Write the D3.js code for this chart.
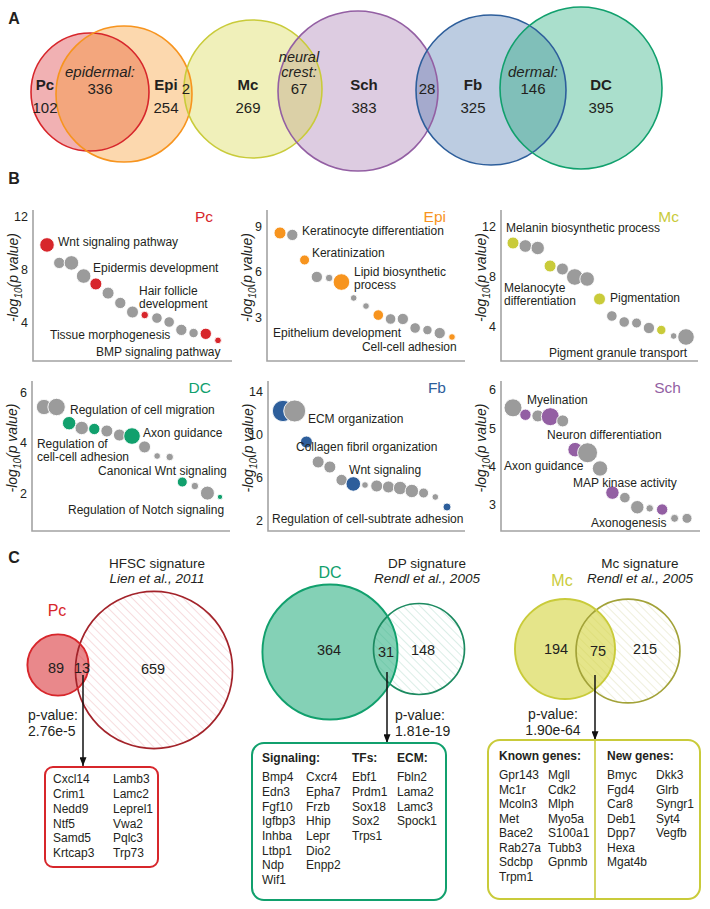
<!DOCTYPE html>
<html><head><meta charset="utf-8">
<script src="https://cdn.jsdelivr.net/npm/d3@7"></script>
<style>
html,body{margin:0;padding:0;background:#fff;}
svg{display:block;font-family:"Liberation Sans",Arial,Helvetica,sans-serif;}
</style></head><body>
<svg id="fig" width="710" height="909"></svg>
<script>
// ================= DATA =================
// Panel A: six-population Venn
const vennSets   = ["Pc","Epi","Mc","Sch","Fb","DC"];
const vennUnique = [102,254,269,383,325,395];
const vennShared = [336,2,67,28,146];
const vennSharedNames = ["epidermal:","","neural\ncrest:","","dermal:"];

// Panel B: GO term enrichment bubbles (-log10 p), bubble size, highlighted flag
const pcValues = [9.87,8.5,8.5,7.5,6.9,6.2,5.45,4.76,4.53,4.3,4.0,3.4,3.16,3.1,2.6];
const pcSizes  = [53,32,53,53,36,36,32,36,14,28,28,32,22,32,11];
const pcHigh   = [1,0,0,0,1,0,0,0,1,0,0,0,0,1,1];
const pcTicks  = [4,8,12];
const pcTerms  = ["Wnt signaling pathway","Epidermis development","Hair follicle\ndevelopment","Tissue morphogenesis","BMP signaling pathway"];

const epiValues = [8.6,8.47,6.8,5.67,5.6,5.33,4.27,3.73,3.13,2.87,2.87,2.27,2.13,1.93,1.67];
const epiSizes  = [36,32,25,32,14,69,11,11,28,28,32,28,22,32,11];
const epiHigh   = [1,0,1,0,0,1,0,0,1,0,0,0,0,0,1];
const epiTicks  = [3,6,9];
const epiTerms  = ["Keratinocyte differentiation","Keratinization","Lipid biosynthetic\nprocess","Epithelium development","Cell-cell adhesion"];

const mcValues = [10.64,10.4,10.24,8.8,8.56,7.92,7.76,6.16,4.8,4.32,4.24,3.84,3.68,3.2,3.12];
const mcSizes  = [36,40,45,36,36,69,53,36,28,28,25,32,22,11,69];
const mcHigh   = [1,0,0,1,0,0,0,1,0,0,0,0,1,0,0];
const mcTicks  = [4,8,12];
const mcTerms  = ["Melanin biosynthetic process","Melanocyte\ndifferentiation","Pigmentation","Pigment granule transport"];

const dcValues = [5.41,5.41,4.77,4.58,4.54,4.46,4.3,4.26,3.83,3.47,3.43,2.44,2.28,2.0,1.85];
const dcSizes  = [59,76,45,45,32,36,36,69,36,11,14,25,14,49,7];
const dcHigh   = [0,0,1,0,1,0,0,1,0,0,0,1,0,0,1];
const dcTicks  = [2,4,6];
const dcTerms  = ["Regulation of cell migration","Axon guidance","Regulation of\ncell-cell adhesion","Canonical Wnt signaling","Regulation of Notch signaling"];

const fbValues = [12.22,12.22,9.31,7.44,6.97,5.75,5.38,5.28,5.19,5.1,5.0,4.72,4.53,4.16,3.22];
const fbSizes  = [114,121,36,36,36,32,53,11,36,36,45,45,25,11,16];
const fbHigh   = [1,0,1,0,0,0,1,0,0,0,0,0,0,0,1];
const fbTicks  = [2,6,10,14];
const fbTerms  = ["ECM organization","Collagen fibril organization","Wnt signaling","Regulation of cell-subtrate adhesion"];

const schValues = [5.53,5.35,5.32,5.3,5.19,4.44,4.36,3.95,3.32,3.19,2.94,2.91,2.88,2.65,2.65];
const schSizes  = [81,32,36,81,36,53,100,59,45,28,45,14,32,16,25];
const schHigh   = [0,1,0,1,0,1,0,0,1,0,0,0,1,0,0];
const schTicks  = [3,4,5,6];
const schTerms  = ["Myelination","Neuron differentiation","Axon guidance","MAP kinase activity","Axonogenesis"];

// Panel C: comparisons with published signatures
const pcSigTitle  = ["HFSC signature","Lien et al., 2011"];
const pcSigCounts = [89,13,659];
const pcSigP      = "2.76e-5";
const pcSigGenes  = ["Cxcl14","Crim1","Nedd9","Ntf5","Samd5","Krtcap3","Lamb3","Lamc2","Leprel1","Vwa2","Pqlc3","Trp73"];

const dcSigTitle  = ["DP signature","Rendl et al., 2005"];
const dcSigCounts = [364,31,148];
const dcSigP      = "1.81e-19";
const dcSignaling = ["Bmp4","Edn3","Fgf10","Igfbp3","Inhba","Ltbp1","Ndp","Wif1","Cxcr4","Epha7","Frzb","Hhip","Lepr","Dio2","Enpp2"];
const dcTFs       = ["Ebf1","Prdm1","Sox18","Sox2","Trps1"];
const dcECM       = ["Fbln2","Lama2","Lamc3","Spock1"];

const mcSigTitle  = ["Mc signature","Rendl et al., 2005"];
const mcSigCounts = [194,75,215];
const mcSigP      = "1.90e-64";
const mcKnown     = ["Gpr143","Mc1r","Mcoln3","Met","Bace2","Rab27a","Sdcbp","Trpm1","Mgll","Cdk2","Mlph","Myo5a","S100a1","Tubb3","Gpnmb"];
const mcNew       = ["Bmyc","Fgd4","Car8","Deb1","Dpp7","Hexa","Mgat4b","Dkk3","Glrb","Syngr1","Syt4","Vegfb"];

// ================= STYLE / LAYOUT =================
const FONT = '"Liberation Sans", Arial, Helvetica, sans-serif';
const TXT = "#231f20";
const GRAY = "#9b9b9b";
const COL = {Pc:"#d7262b", Epi:"#f7941e", Mc:"#c9cb3a", Sch:"#935fa3", Fb:"#2d5e9b", DC:"#11a06d"};

const svg = d3.select("#fig");
const defs = svg.append("defs");

function text(g, x, y, s, opt = {}) {
  return g.append("text").attr("x", x).attr("y", y).attr("dy", "0.35em")
    .attr("font-size", opt.size || 12).attr("font-family", FONT)
    .attr("font-weight", opt.weight || "normal").attr("font-style", opt.style || "normal")
    .attr("text-anchor", opt.anchor || "start").attr("fill", opt.fill || TXT).text(s);
}

// panel letters
[["A",14,18],["B",14,178],["C",14,557]].forEach(([s,x,y]) => text(svg, x, y, s, {size:16, weight:"bold", anchor:"middle"}));

// ---------- Panel A ----------
const gA = svg.append("g");
const vennGeom = [
  {cx:90, cy:92, r:59, fill:"#d7262b", op:0.36},
  {cx:124,cy:94, r:68, fill:"#f7941e", op:0.36},
  {cx:253,cy:89, r:69, fill:"#d8d84a", op:0.38},
  {cx:358,cy:91, r:80, fill:"#9b6aa8", op:0.34},
  {cx:491,cy:90, r:75, fill:"#3a6aa8", op:0.34},
  {cx:581,cy:88, r:81, fill:"#1fab7a", op:0.38}
];
const fillOrder = [0,1,3,2,4,5];
fillOrder.forEach(i => {
  const c = vennGeom[i];
  gA.append("circle").attr("cx", c.cx).attr("cy", c.cy).attr("r", c.r)
    .attr("fill", c.fill).attr("fill-opacity", c.op);
});
vennSets.forEach((s, i) => {
  const c = vennGeom[i];
  gA.append("circle").attr("cx", c.cx).attr("cy", c.cy).attr("r", c.r)
    .attr("fill", "none").attr("stroke", COL[s]).attr("stroke-width", 1.6);
});
const vennLabelX = [45,166,248,364,473,601];
vennSets.forEach((s, i) => {
  text(gA, vennLabelX[i], 85, s, {size:15, weight:"bold", anchor:"middle"});
  text(gA, vennLabelX[i], 108, vennUnique[i], {size:15, anchor:"middle"});
});
const sharedX = [100,186,299,427,533];
vennShared.forEach((v, i) => {
  const lines = vennSharedNames[i] ? vennSharedNames[i].split("\n") : [];
  lines.forEach((ln, j) => text(gA, sharedX[i], 72 - (lines.length - 1 - j) * 15.5, ln,
    {size: lines.length > 1 ? 14.5 : 15, style:"italic", anchor:"middle"}));
  text(gA, sharedX[i], 89, v, {size:15, anchor:"middle"});
});

// ---------- Panel B ----------
function bubblePanel(p, L) {
  const g = svg.append("g");
  const x = d3.scaleLinear().domain([0, p.values.length - 1]).range([L.x0, L.x1]);
  const y = d3.scaleLinear().domain(L.domain).range([L.bottom, L.top]);
  const r = d3.scaleSqrt().domain([0, 100]).range([0, 10]);
  g.append("path").attr("d", `M${L.left},${L.top}V${L.bottom}H${L.right}`)
    .attr("fill", "none").attr("stroke", "#a3a3a3").attr("stroke-width", 1.6);
  const ax = g.append("g").attr("transform", `translate(${L.left},0)`)
    .call(d3.axisLeft(y).tickValues(p.ticks).tickSize(0).tickPadding(5).tickFormat(d3.format("d")));
  ax.select(".domain").remove();
  ax.selectAll("text").attr("font-size", 12.5).attr("font-family", FONT).attr("fill", TXT);
  // y label
  const cy = (L.top + L.bottom) / 2 - 8;
  const yl = g.append("text").attr("transform", `translate(${L.left - 20},${cy}) rotate(-90)`)
    .attr("dy", "0.35em").attr("text-anchor", "middle").attr("font-family", FONT)
    .attr("font-style", "italic").attr("font-size", 14).attr("fill", TXT);
  yl.append("tspan").text("-log");
  yl.append("tspan").attr("font-size", 10).attr("dy", "0.45em").text("10");
  yl.append("tspan").attr("dy", "-0.3em").text("(p value)");
  // title
  text(g, L.right - 19, L.top + 7, p.title, {size:15.5, anchor:"end", fill:p.color});
  // bubbles
  g.append("g").selectAll("circle").data(p.values).join("circle")
    .attr("cx", (d, i) => x(i)).attr("cy", d => y(d)).attr("r", (d, i) => r(p.sizes[i]))
    .attr("fill", (d, i) => p.high[i] ? p.color : GRAY)
    .attr("stroke", "#fff").attr("stroke-width", 0.9);
  // term labels (anchored in data space: index, value); multi-line labels as separate lines
  p.terms.forEach((t, k) => {
    const [ix, iv] = L.labels[k];
    t.split("\n").forEach((ln, j) => {
      g.append("text").attr("x", x(ix)).attr("y", y(iv) + j * 13).attr("dy", "0.35em")
        .attr("font-size", 12).attr("font-family", FONT).attr("fill", TXT).text(ln);
    });
  });
}

bubblePanel({values:pcValues, sizes:pcSizes, high:pcHigh, ticks:pcTicks, terms:pcTerms, title:"Pc", color:COL.Pc},
  {left:33, right:232, top:210, bottom:361, x0:47, x1:218, domain:[1.03,12.53],
   labels:[[0.9,10.1],[3.77,8.11],[7.53,6.37],[0.25,3.0],[4.01,1.71]]});
bubblePanel({values:epiValues, sizes:epiSizes, high:epiHigh, ticks:epiTicks, terms:epiTerms, title:"Epi", color:COL.Epi},
  {left:267, right:465, top:210, bottom:361, x0:280, x1:452, domain:[0.07,10.13],
   labels:[[1.79,8.73],[2.6,7.27],[6.02,6.0],[-0.57,1.93],[6.67,1.0]]});
bubblePanel({values:mcValues, sizes:mcSizes, high:mcHigh, ticks:mcTicks, terms:mcTerms, title:"Mc", color:COL.Mc},
  {left:501, right:698, top:210, bottom:361, x0:513, x1:686, domain:[1.2,13.28],
   labels:[[-0.57,11.84],[-0.73,7.04],[7.85,6.24],[2.91,1.84]]});
bubblePanel({values:dcValues, sizes:dcSizes, high:dcHigh, ticks:dcTicks, terms:dcTerms, title:"DC", color:COL.DC},
  {left:32, right:230, top:381, bottom:531, x0:44, x1:220, domain:[0.5,6.44],
   labels:[[2.07,5.29],[7.88,4.38],[-0.56,3.94],[4.3,2.87],[1.91,1.33]]});
bubblePanel({values:fbValues, sizes:fbSizes, high:fbHigh, ticks:fbTicks, terms:fbTerms, title:"Fb", color:COL.Fb},
  {left:268, right:465, top:381, bottom:531, x0:283, x1:447, domain:[0.97,15.03],
   labels:[[2.13,11.47],[1.11,8.85],[5.64,6.69],[-0.94,2.1]]});
bubblePanel({values:schValues, sizes:schSizes, high:schHigh, ticks:schTicks, terms:schTerms, title:"Sch", color:COL.Sch},
  {left:501, right:700, top:381, bottom:531, x0:513, x1:687, domain:[2.32,6.23],
   labels:[[1.13,5.74],[2.74,4.83],[-0.72,4.02],[4.83,3.57],[6.28,2.53]]});

// ---------- Panel C ----------
function hatch(id, color) {
  const p = defs.append("pattern").attr("id", id).attr("patternUnits", "userSpaceOnUse")
    .attr("width", 6).attr("height", 6).attr("patternTransform", "rotate(-45)");
  p.append("rect").attr("width", 6).attr("height", 6).attr("fill", "#fff");
  p.append("line").attr("x1", 0).attr("y1", 0).attr("x2", 0).attr("y2", 6)
    .attr("stroke", color).attr("stroke-width", 1.1);
}
hatch("hPc", "#f1c2c5"); hatch("hDC", "#bde0d4"); hatch("hMc", "#e3e3bf");
defs.append("marker").attr("id", "arr").attr("viewBox", "0 0 10 8").attr("refX", 10).attr("refY", 4)
  .attr("markerWidth", 9).attr("markerHeight", 7).attr("markerUnits", "userSpaceOnUse").attr("orient", "auto")
  .append("path").attr("d", "M0,0L10,4L0,8Z").attr("fill", "#111");

function sigPanel(c) {
  const g = svg.append("g");
  const total1 = c.counts[0] + c.counts[1], total2 = c.counts[1] + c.counts[2];
  const rs = d3.scaleSqrt().domain([0, 100]).range([0, c.k * 10]);
  g.append("circle").attr("cx", c.c2[0]).attr("cy", c.c2[1]).attr("r", rs(total2)).attr("fill", `url(#${c.hatch})`);
  g.append("circle").attr("cx", c.c1[0]).attr("cy", c.c1[1]).attr("r", rs(total1))
    .attr("fill", c.fill).attr("fill-opacity", c.op);
  g.append("circle").attr("cx", c.c2[0]).attr("cy", c.c2[1]).attr("r", rs(total2))
    .attr("fill", "none").attr("stroke", c.stroke2).attr("stroke-width", 1.7);
  g.append("circle").attr("cx", c.c1[0]).attr("cy", c.c1[1]).attr("r", rs(total1))
    .attr("fill", "none").attr("stroke", c.stroke1).attr("stroke-width", 1.9);
  c.counts.forEach((v, i) => text(g, c.numPos[i][0], c.numPos[i][1], v, {size:14.5, anchor:"middle"}));
  text(g, c.name[1], c.name[2], c.name[0], {size:16, anchor:"middle", fill:c.stroke1});
  text(g, c.sigX, 563, c.title[0], {size:13.5, anchor:"middle"});
  text(g, c.sigX, 578, c.title[1], {size:13.5, anchor:"middle", style:"italic"});
  text(g, c.pPos[0], c.pPos[1], "p-value:", {size:14, anchor:c.pAnchor});
  text(g, c.pPos[0], c.pPos[1] + 16, c.p, {size:14, anchor:c.pAnchor});
  g.append("line").attr("x1", c.arrow[0]).attr("x2", c.arrow[0]).attr("y1", c.arrow[1]).attr("y2", c.arrow[2])
    .attr("stroke", "#111").attr("stroke-width", 1.5).attr("marker-end", "url(#arr)");
  const b = c.box;
  g.append("rect").attr("x", b[0]).attr("y", b[1]).attr("width", b[2] - b[0]).attr("height", b[3] - b[1])
    .attr("rx", b[4]).attr("fill", "#fff").attr("stroke", c.stroke1).attr("stroke-width", 2);
  if (c.divider) g.append("line").attr("x1", c.divider).attr("x2", c.divider).attr("y1", b[1]).attr("y2", b[3])
    .attr("stroke", c.stroke1).attr("stroke-width", 1.6);
  (c.headers || []).forEach(h => text(g, h[1], c.headY, h[0], {size:12, weight:"bold"}));
  c.cols.forEach(col => col[0].forEach((gene, j) => text(g, col[1], c.rowY + j * c.rowStep, gene, {size:12})));
}

sigPanel({counts:pcSigCounts, title:pcSigTitle, p:pcSigP, k:3.03, c1:[58,665], c2:[154,670],
  fill:"#d7262b", op:0.55, stroke1:"#d7262b", stroke2:"#a3232a", hatch:"hPc",
  numPos:[[56,668],[82,668],[153,669]], name:["Pc",57,610], sigX:157,
  pPos:[28,715], pAnchor:"start", arrow:[83,675,766], box:[45,767,158,867,8],
  rowY:779, rowStep:14.8,
  cols:[[pcSigGenes.slice(0,6),53],[pcSigGenes.slice(6),113]]});

sigPanel({counts:dcSigCounts, title:dcSigTitle, p:dcSigP, k:3.4, c1:[330,652], c2:[419,649],
  fill:"#1fab7a", op:0.55, stroke1:"#11a06d", stroke2:"#1c8a60", hatch:"hDC",
  numPos:[[329,650],[386,652],[423,650]], name:["DC",330,572], sigX:427,
  pPos:[395,715], pAnchor:"start", arrow:[387,672,743], box:[252,743,446,900,12],
  headY:758, headers:[["Signaling:",262],["TFs:",352],["ECM:",397]],
  rowY:777, rowStep:14.67,
  cols:[[dcSignaling.slice(0,8),262],[dcSignaling.slice(8),306],[dcTFs,352],[dcECM,397]]});

sigPanel({counts:mcSigCounts, title:mcSigTitle, p:mcSigP, k:3.05, c1:[565,649], c2:[628,651],
  fill:"#d3d33c", op:0.6, stroke1:"#c9cb3a", stroke2:"#a2a238", hatch:"hMc",
  numPos:[[556,649],[598,651],[645,649]], name:["Mc",562,580], sigX:640,
  pPos:[553,714], pAnchor:"middle", arrow:[595,675,740], box:[488,740,700,899,12], divider:595,
  headY:756, headers:[["Known genes:",499],["New genes:",607]],
  rowY:775, rowStep:14.5,
  cols:[[mcKnown.slice(0,8),499],[mcKnown.slice(8),548],[mcNew.slice(0,7),607],[mcNew.slice(7),656]]});
</script>
</body></html>
